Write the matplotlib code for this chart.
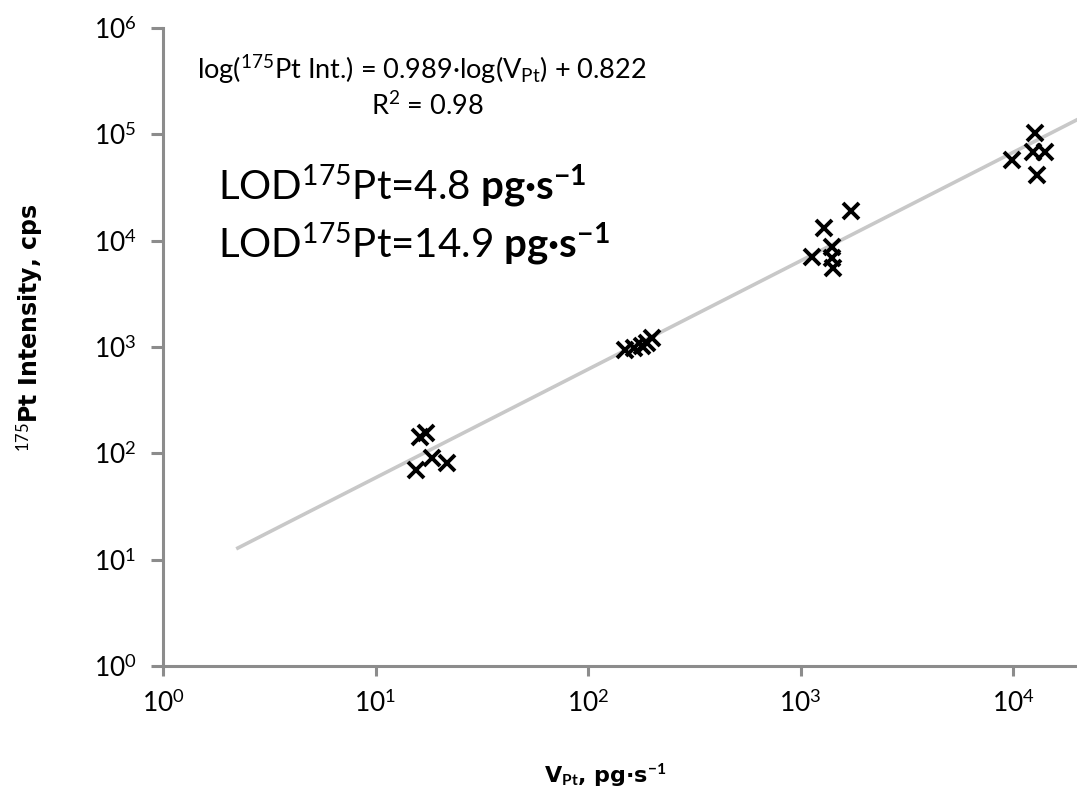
import matplotlib
matplotlib.use("Agg")
import matplotlib.pyplot as plt
import numpy as np

plt.rcParams['font.family'] = ['Lato', 'DejaVu Sans']
plt.rcParams['mathtext.fontset'] = 'custom'
plt.rcParams['mathtext.rm'] = 'Lato'
plt.rcParams['mathtext.it'] = 'Lato:italic'
plt.rcParams['mathtext.bf'] = 'Lato:bold'

# V_Pt (pg/s) and 175Pt intensity (cps)
v_pt = [15.5, 16.2, 17.3, 18.4, 21.7,
        149, 165, 180, 190, 200,
        1132, 1291, 1400, 1400, 1416, 1729,
        9890, 12420, 12700, 12970, 14150]
intensity = [70, 143, 156, 90, 81,
             940, 980, 1020, 1090, 1220,
             7040, 13190, 8740, 6890, 5550, 19070,
             57600, 68400, 103300, 41600, 68400]

# trend line as drawn
fit_slope = 1.02
fit_icpt = 0.75
fit_x = [2.25, 20000]

eq_text = r"log($^{175}$Pt Int.) = 0.989·log(V$_{\mathrm{Pt}}$) + 0.822"
r2_text = r"R$^{2}$ = 0.98"
lod_vals = ["4.8", "14.9"]

fig = plt.figure(figsize=(10.77, 8.09), dpi=100)
ax = fig.add_axes([163/1077, 1-666/809, 1-163/1077, (666-28)/809])

fx = np.array(fit_x)
ax.plot(fx, 10**(fit_icpt + fit_slope*np.log10(fx)), color="#c8c8c8", lw=2.6, zorder=1)
ax.plot(v_pt, intensity, "x", color="black", ms=12, mew=2.8, zorder=3)

ax.set_xscale("log")
ax.set_yscale("log")
ax.set_xlim(1, 10**4.301)
ax.set_ylim(1, 1e6)
ax.set_xticks([10**i for i in range(5)])
ax.set_xticklabels([r"10$^{%d}$" % i for i in range(5)])
ax.set_yticks([10**i for i in range(7)])
ax.set_yticklabels([r"10$^{%d}$" % i for i in range(7)])
ax.minorticks_off()

for s in ["top", "right"]:
    ax.spines[s].set_visible(False)
for s in ["left", "bottom"]:
    ax.spines[s].set_color("#8c8c8c")
    ax.spines[s].set_linewidth(2.2)
ax.tick_params(axis="y", length=9, width=2.2, color="#8c8c8c", labelsize=19, pad=10)
ax.tick_params(axis="x", length=7, width=2.2, color="#8c8c8c", labelsize=19, pad=10)

fig.text(30/1077, 1-328/809, r"$^{175}$Pt Intensity, cps", rotation=90, ha="center", va="center",
         fontsize=17, fontweight="bold", family="DejaVu Sans")
fig.text(605/1077, 1-775/809, r"V$_{\mathbf{Pt}}$, pg·s$^{\mathbf{-1}}$", ha="center", va="center",
         fontsize=16, fontweight="bold", family="DejaVu Sans")

fig.text(197/1077, 1-70/809, eq_text, ha="left", va="center", fontsize=19.5)
fig.text(427/1077, 1-106/809, r2_text, ha="center", va="center", fontsize=19.5)

for i, v in enumerate(lod_vals):
    fig.text(218/1077, 1-(186+58*i)/809,
             r"LOD$^{175}$Pt=" + v + r" $\mathbf{pg·s^{-1}}$",
             ha="left", va="center", fontsize=29)

fig.savefig("out.png", dpi=100)
